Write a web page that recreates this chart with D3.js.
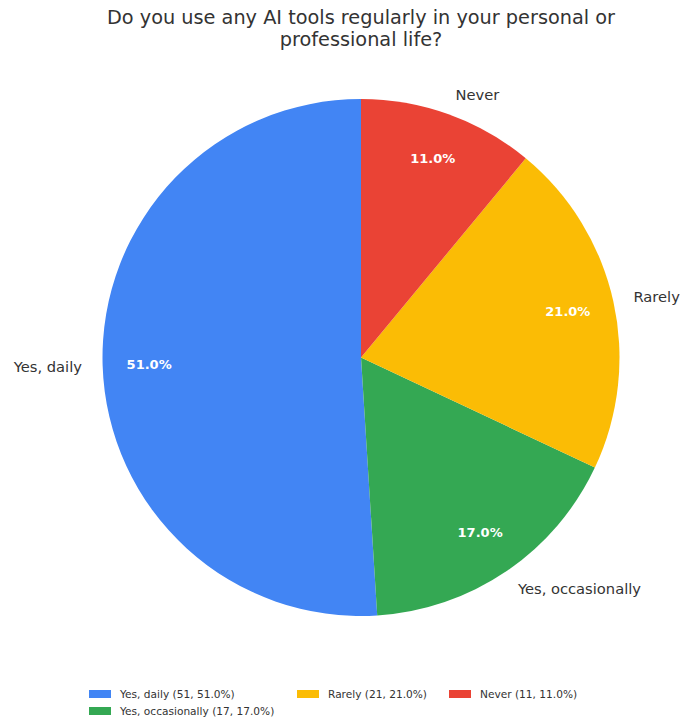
<!DOCTYPE html>
<html>
<head>
<meta charset="utf-8">
<script src="https://cdn.jsdelivr.net/npm/d3@7"></script>
<style>
  html, body { margin: 0; padding: 0; background: #fff; }
  svg { display: block; font-family: "DejaVu Sans", sans-serif; }
</style>
</head>
<body>
<svg id="chart" width="680" height="719"></svg>
<script>
// Survey answers and counts
const categories = ["Yes, daily", "Yes, occasionally", "Rarely", "Never"];
const counts = [51, 17, 21, 11];
const colors = ["#4285F4", "#34A853", "#FBBC05", "#EA4335"];
const titleLines = ["Do you use any AI tools regularly in your personal or", "professional life?"];

const svg = d3.select("#chart");
const cx = 361, cy = 357.5, radius = 258.5;

const total = d3.sum(counts);
const data = categories.map((c, i) => ({ label: c, value: counts[i], color: colors[i] }));

// Title
svg.append("g")
  .selectAll("text")
  .data(titleLines)
  .join("text")
  .attr("x", 361)
  .attr("y", (d, i) => 17 + i * 22)
  .attr("text-anchor", "middle")
  .attr("dominant-baseline", "central")
  .attr("font-size", 19.3)
  .attr("fill", "#333")
  .text(d => d);

// Pie runs counterclockwise from 12 o'clock
const pie = d3.pie()
  .value(d => d.value)
  .sort(null)
  .startAngle(0)
  .endAngle(-2 * Math.PI);

const arcs = pie(data);
const arc = d3.arc().innerRadius(0).outerRadius(radius);

const g = svg.append("g").attr("transform", `translate(${cx},${cy})`);

g.selectAll("path")
  .data(arcs)
  .join("path")
  .attr("d", arc)
  .attr("fill", d => d.data.color);

function mid(d) { return (d.startAngle + d.endAngle) / 2; }
function polar(a, r) { return [Math.sin(a) * r, -Math.cos(a) * r]; }

// Percentage labels inside slices
g.selectAll("text.pct")
  .data(arcs)
  .join("text")
  .attr("class", "pct")
  .attr("x", d => polar(mid(d), radius * 0.82)[0])
  .attr("y", d => polar(mid(d), radius * 0.82)[1])
  .attr("text-anchor", "middle")
  .attr("dominant-baseline", "central")
  .attr("font-size", 13)
  .attr("font-weight", "bold")
  .attr("fill", "#fff")
  .text(d => (d.data.value / total * 100).toFixed(1) + "%");

// Category labels outside slices
g.selectAll("text.lbl")
  .data(arcs)
  .join("text")
  .attr("class", "lbl")
  .attr("x", d => polar(mid(d), radius * 1.08)[0])
  .attr("y", d => polar(mid(d), radius * 1.08)[1])
  .attr("text-anchor", d => polar(mid(d), 1)[0] < 0 ? "end" : "start")
  .attr("dominant-baseline", "central")
  .attr("font-size", 14.7)
  .attr("fill", "#333")
  .text(d => d.data.label);

// Legend, three columns filled column by column
const legendOrder = [
  { i: 0, x: 89, y: 694 },
  { i: 1, x: 89, y: 711 },
  { i: 2, x: 297, y: 694 },
  { i: 3, x: 449, y: 694 }
];
const lg = svg.append("g");
const items = lg.selectAll("g")
  .data(legendOrder)
  .join("g")
  .attr("transform", d => `translate(${d.x},${d.y})`);
items.append("rect")
  .attr("x", 0).attr("y", -4)
  .attr("width", 22).attr("height", 8)
  .attr("fill", d => data[d.i].color);
items.append("text")
  .attr("x", 31).attr("y", 0)
  .attr("dominant-baseline", "central")
  .attr("font-size", 10.6)
  .attr("fill", "#333")
  .text(d => {
    const v = data[d.i].value;
    return `${data[d.i].label} (${v}, ${(v / total * 100).toFixed(1)}%)`;
  });
</script>
</body>
</html>
